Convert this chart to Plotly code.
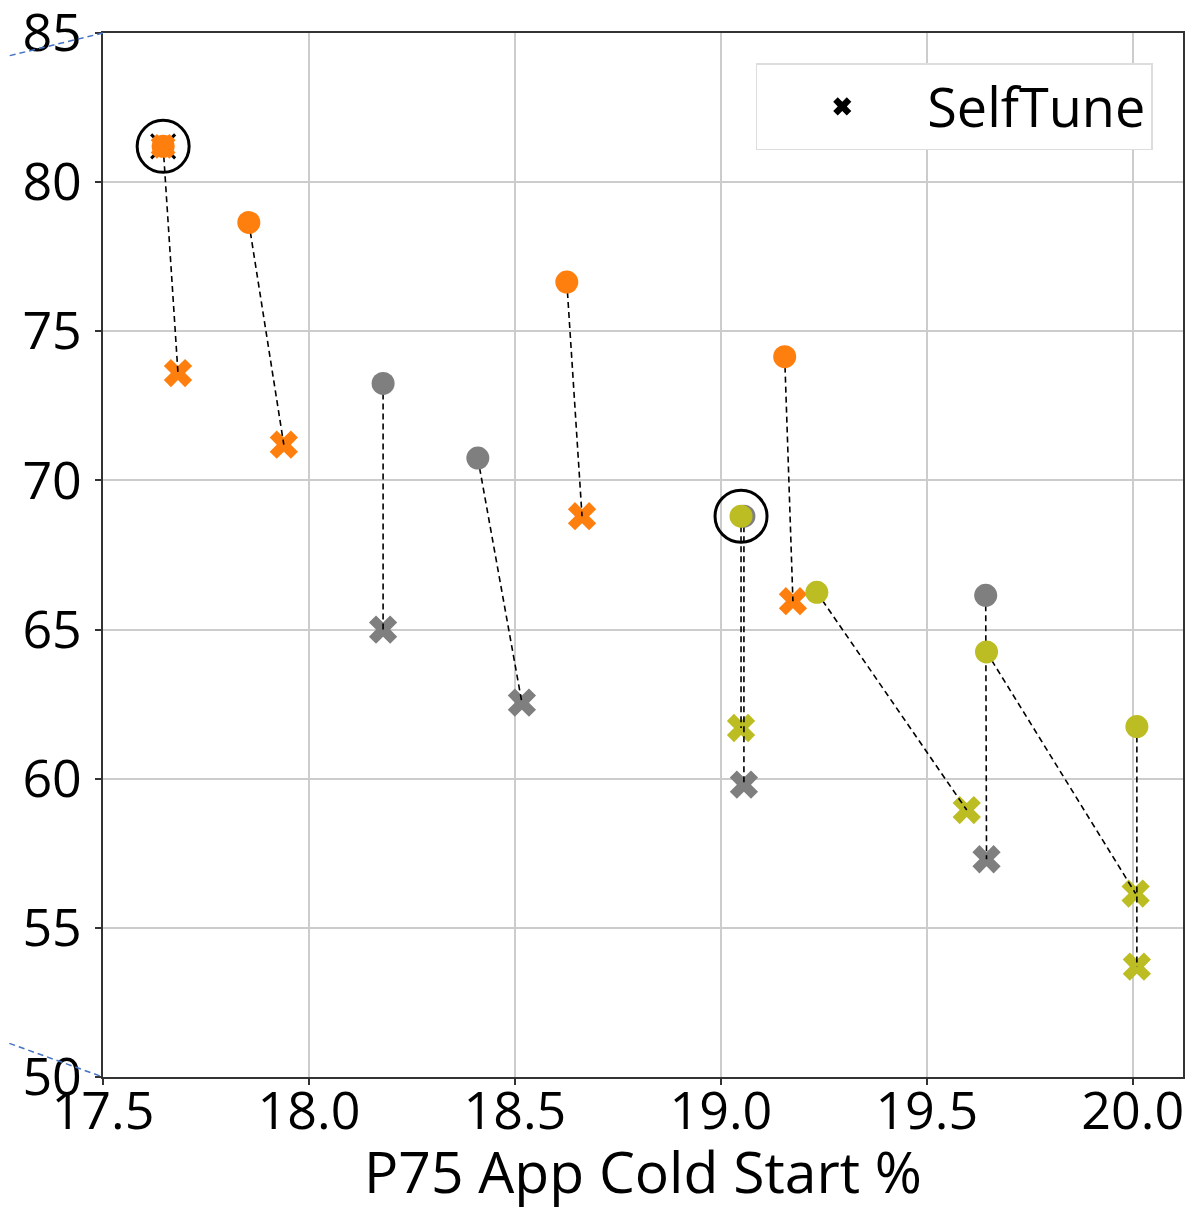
import plotly.graph_objects as go

# ---- data: each pair = baseline config (circle) -> SelfTune result (x) ----
pair_color = ["orange", "orange", "gray", "gray", "orange", "olive", "gray",
              "orange", "olive", "gray", "olive", "olive"]
start_x = [17.646, 17.854, 18.180, 18.410, 18.626, 19.049, 19.056,
           19.155, 19.233, 19.643, 19.645, 20.010]
start_y = [81.2, 78.65, 73.25, 70.75, 76.65, 68.8, 68.8,
           74.15, 66.25, 66.15, 64.25, 61.75]
end_x = [17.682, 17.939, 18.180, 18.517, 18.663, 19.049, 19.056,
         19.175, 19.597, 19.645, 20.007, 20.010]
end_y = [73.6, 71.2, 65.0, 62.55, 68.8, 61.7, 59.8,
         65.95, 58.95, 57.3, 56.15, 53.7]
highlight = [0, 5]          # circled configurations
overlap_x_idx = [0]         # start point that also carries an x marker

x_ticks = [17.5, 18.0, 18.5, 19.0, 19.5, 20.0]
y_ticks = [50, 55, 60, 65, 70, 75, 80, 85]

COLORS = {"orange": "#ff7f0e", "gray": "#7f7f7f", "olive": "#bcbd22"}
FONT = "Open Sans, Noto Sans, sans-serif"

fig = go.Figure()

order = ["gray", "orange", "olive"]
for c in order:
    idx = [i for i, pc in enumerate(pair_color) if pc == c]
    fig.add_trace(go.Scatter(
        x=[end_x[i] for i in idx], y=[end_y[i] for i in idx], mode="markers",
        marker=dict(symbol="x", size=25, color=COLORS[c], line=dict(width=0)),
        showlegend=False, hoverinfo="skip"))

fig.add_trace(go.Scatter(
    x=[start_x[i] for i in overlap_x_idx], y=[start_y[i] for i in overlap_x_idx],
    mode="markers", marker=dict(symbol="x-thin", size=24, color="black",
                                line=dict(width=3, color="black")),
    showlegend=False, hoverinfo="skip"))
fig.add_trace(go.Scatter(
    x=[start_x[i] for i in overlap_x_idx], y=[start_y[i] for i in overlap_x_idx],
    mode="markers", marker=dict(symbol="x", size=22, color=COLORS["orange"], line=dict(width=0)),
    showlegend=False, hoverinfo="skip"))

for i in range(len(start_x)):
    fig.add_trace(go.Scatter(
        x=[start_x[i], end_x[i]], y=[start_y[i], end_y[i]], mode="lines",
        line=dict(color="black", width=1.6, dash="6px,4px"),
        showlegend=False, hoverinfo="skip"))

for c in order:
    idx = [i for i, pc in enumerate(pair_color) if pc == c]
    fig.add_trace(go.Scatter(
        x=[start_x[i] for i in idx], y=[start_y[i] for i in idx], mode="markers",
        marker=dict(symbol="circle", size=23, color=COLORS[c], line=dict(width=0)),
        showlegend=False, hoverinfo="skip"))

fig.add_trace(go.Scatter(
    x=[start_x[i] for i in highlight], y=[start_y[i] for i in highlight],
    mode="markers",
    marker=dict(symbol="circle-open", size=52, color="black", line=dict(width=3, color="black")),
    showlegend=False, hoverinfo="skip"))

fig.add_trace(go.Scatter(
    x=[None], y=[None], mode="markers", name="SelfTune",
    marker=dict(symbol="x", size=17, color="black", line=dict(width=0))))

axis_common = dict(
    showgrid=True, gridcolor="#cccccc", gridwidth=1.5,
    showline=True, linecolor="#333333", linewidth=1.5, mirror=True,
    ticks="outside", ticklen=6, tickwidth=1.5, tickcolor="#333333",
    tickfont=dict(family=FONT, size=52, color="black"),
    zeroline=False, automargin=False, ticklabeloverflow="allow",
)

# page body adds ~8px offset; figure sized so plot area lands at x 103..1183, y 33..1077
fig.update_layout(
    width=1184, height=1202,
    margin=dict(l=95, r=9, t=25, b=133),
    paper_bgcolor="white", plot_bgcolor="white",
    font=dict(family=FONT, color="black"),
    xaxis=dict(range=[17.5, 20.122], tickvals=x_ticks,
               ticktext=[f"{v:.1f}" for v in x_ticks],
               ticklabelstandoff=-18,
               title=dict(text="P75 App Cold Start %", font=dict(family=FONT, size=57), standoff=20),
               **axis_common),
    yaxis=dict(range=[50, 85], tickvals=y_ticks,
               ticktext=[str(v) for v in y_ticks], ticklabelstandoff=3, **axis_common),
    legend=dict(x=0.972, y=0.971, xanchor="right", yanchor="top",
                bgcolor="white", bordercolor="#dddddd", borderwidth=1.5,
                font=dict(family=FONT, size=54, color="black"),
                itemwidth=160),
    showlegend=True,
)

fig.add_shape(type="line", xref="paper", yref="paper",
              x0=-103 / 1080, y0=1 + (33 - 58) / 1044, x1=0, y1=1,
              line=dict(color="#4472c4", width=1.5, dash="6px,4px"))
fig.add_shape(type="line", xref="paper", yref="paper",
              x0=-103 / 1080, y0=(1077 - 1040) / 1044, x1=0, y1=0,
              line=dict(color="#4472c4", width=1.5, dash="6px,4px"))

fig.write_html("out.html")
